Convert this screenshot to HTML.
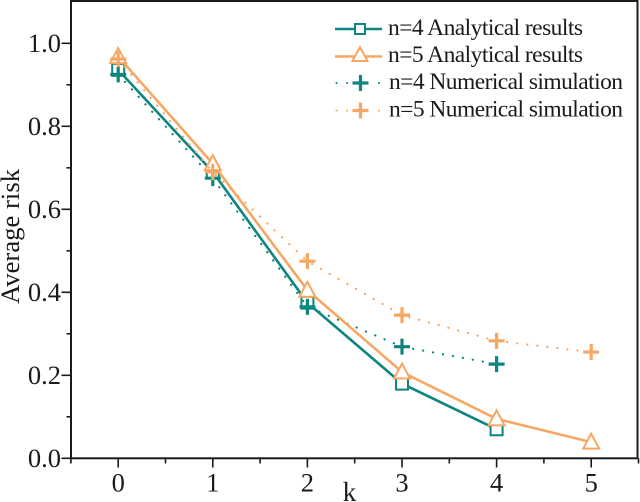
<!DOCTYPE html>
<html>
<head>
<meta charset="utf-8">
<style>
html,body{margin:0;padding:0;background:#fff;}
svg{display:block;font-family:"Liberation Serif",serif;}
</style>
</head>
<body>
<svg id="chart" width="640" height="502" viewBox="0 0 640 502" xmlns="http://www.w3.org/2000/svg"></svg>
<script>
const kValues4 = [0, 1, 2, 3, 4];
const kValues5 = [0, 1, 2, 3, 4, 5];
const analytical4 = [0.936, 0.69, 0.375, 0.18, 0.07];
const analytical5 = [0.968, 0.71, 0.405, 0.208, 0.095, 0.039];
const simulation4 = [0.925, 0.675, 0.365, 0.269, 0.227];
const simulation5 = [0.962, 0.69, 0.475, 0.345, 0.283, 0.256];
const xTicks = [0, 1, 2, 3, 4, 5];
const xMinorTicks = [-0.5, 0.5, 1.5, 2.5, 3.5, 4.5, 5.5];
const yTicks = [0, 0.2, 0.4, 0.6, 0.8, 1.0];
const yMinorTicks = [0.1, 0.3, 0.5, 0.7, 0.9];
const legendLabels = ["n=4 Analytical results", "n=5 Analytical results", "n=4 Numerical simulation", "n=5 Numerical simulation"];

const TEAL = "#0e8580";
const ORANGE = "#f6a763";
const INK = "#1a1a1a";
const svg = document.getElementById("chart");
const NS = "http://www.w3.org/2000/svg";
function xScale(v){ return 118.2 + (v - 0) * 94.6; }
function yScale(v){ return 458.3 - v * 415; }
function make(tag, attrs, parent){
  const el = document.createElementNS(NS, tag);
  for (const key in attrs) el.setAttribute(key, attrs[key]);
  (parent || svg).appendChild(el);
  return el;
}
function polyPoints(xs, ys){
  return xs.map((x, i) => xScale(x).toFixed(1) + "," + yScale(ys[i]).toFixed(1)).join(" ");
}
function drawSquare(parent, cx, cy){
  make("rect", {x: cx - 6, y: cy - 6, width: 12, height: 12, fill: "none", stroke: TEAL, "stroke-width": 2}, parent);
}
function drawTriangle(parent, cx, cy){
  make("polygon", {points: (cx) + "," + (cy - 8.5) + " " + (cx - 8) + "," + (cy + 6.5) + " " + (cx + 8) + "," + (cy + 6.5), fill: "none", stroke: ORANGE, "stroke-width": 2}, parent);
}
function drawPlus(parent, cx, cy, colour){
  make("path", {d: "M" + (cx - 8) + " " + cy + "H" + (cx + 8) + "M" + cx + " " + (cy - 8) + "V" + (cy + 8), fill: "none", stroke: colour, "stroke-width": 3.2}, parent);
}

// frame
const frame = make("rect", {x: 71, y: 1, width: 566.5, height: 457.3, fill: "none", stroke: INK, "stroke-width": 2});



// x axis
const xAxis = make("g", {});


xTicks.forEach(t => {
  make("line", {x1: xScale(t), x2: xScale(t), y1: 458.3, y2: 467.5, stroke: INK, "stroke-width": 1.6}, xAxis);
  const label = make("text", {x: xScale(t), y: 491.5, "text-anchor": "middle", "font-size": 26.5, fill: INK}, xAxis);
  label.textContent = t;
  
  
});
xMinorTicks.forEach(t => {
  make("line", {x1: xScale(t), x2: xScale(t), y1: 458.3, y2: 463.5, stroke: INK, "stroke-width": 1.6}, xAxis);
});

// y axis
const yAxis = make("g", {});


yTicks.forEach(t => {
  make("line", {x1: 61.5, x2: 71, y1: yScale(t), y2: yScale(t), stroke: INK, "stroke-width": 1.6}, yAxis);
  const label = make("text", {x: 61, y: yScale(t) + 8.7, "text-anchor": "end", "font-size": 26.5, fill: INK}, yAxis);
  label.textContent = t.toFixed(1);
  
  
});
yMinorTicks.forEach(t => {
  make("line", {x1: 66.5, x2: 71, y1: yScale(t), y2: yScale(t), stroke: INK, "stroke-width": 1.6}, yAxis);
});

// axis titles
const yTitle = make("text", {transform: "translate(19,236.5) rotate(-90)", "text-anchor": "middle", "font-size": 26.7, fill: INK});
yTitle.textContent = "Average risk";


const xTitle = make("text", {x: 349.5, y: 501, "text-anchor": "middle", "font-size": 27, fill: INK});
xTitle.textContent = "k";



// series
const dotted = {fill: "none", "stroke-width": 2.2, "stroke-linecap": "round", "stroke-dasharray": "0.1 10"};
const sim4Group = make("g", {});


make("polyline", Object.assign({points: polyPoints(kValues4, simulation4), stroke: TEAL}, dotted), sim4Group);

const sim5Group = make("g", {});


make("polyline", Object.assign({points: polyPoints(kValues5, simulation5), stroke: ORANGE}, dotted), sim5Group);

const an4Group = make("g", {});


make("polyline", {points: polyPoints(kValues4, analytical4), fill: "none", stroke: TEAL, "stroke-width": 2.6}, an4Group);
kValues4.forEach((k, i) => {
  make("rect", {x: xScale(k) - 6, y: yScale(analytical4[i]) - 6, width: 12, height: 12, fill: "#fff", stroke: "none"}, an4Group);
  drawSquare(an4Group, xScale(k), yScale(analytical4[i]));
});

kValues4.forEach((k, i) => {
  drawPlus(sim4Group, xScale(k), yScale(simulation4[i]), TEAL);
});
svg.appendChild(sim4Group);

const an5Group = make("g", {});


make("polyline", {points: polyPoints(kValues5, analytical5), fill: "none", stroke: ORANGE, "stroke-width": 2.6}, an5Group);
kValues5.forEach((k, i) => {
  const cx = xScale(k), cy = yScale(analytical5[i]);
  make("polygon", {points: cx + "," + (cy - 8.5) + " " + (cx - 8) + "," + (cy + 6.5) + " " + (cx + 8) + "," + (cy + 6.5), fill: "#fff", stroke: "none"}, an5Group);
  drawTriangle(an5Group, cx, cy);
});

kValues5.forEach((k, i) => {
  drawPlus(sim5Group, xScale(k), yScale(simulation5[i]), ORANGE);
});
svg.appendChild(sim5Group);

// legend
const legend = make("g", {});


const legendRows = [29, 56.5, 83, 110.5];
const legendBaselines = [35, 62, 89, 116.5];
legendLabels.forEach((text, i) => {
  const y = legendRows[i];
  const entry = make("g", {}, legend);
  
  
  const colour = (i % 2 === 0) ? TEAL : ORANGE;
  if (i < 2) {
    make("line", {x1: 335, x2: 382, y1: y, y2: y, stroke: colour, "stroke-width": 2.4}, entry);
    if (i === 0) {
      make("rect", {x: 355, y: y - 5, width: 10, height: 10, fill: "#fff", stroke: TEAL, "stroke-width": 2}, entry);
    } else {
      make("polygon", {points: "360,"+(y-9.5)+" 352.5,"+(y+4.5)+" 367.5,"+(y+4.5), fill: "#fff", stroke: ORANGE, "stroke-width": 2}, entry);
    }
  } else {
    make("line", {x1: 336.5, x2: 380, y1: y, y2: y, stroke: colour, "stroke-width": 2, "stroke-linecap": "round", "stroke-dasharray": "0.1 10.5"}, entry);
    make("rect", {x: 350, y: y - 8, width: 20, height: 16, fill: "#fff", stroke: "none"}, entry);
    drawPlus(entry, 360.5, y, colour);
  }
  const label = make("text", {x: i < 2 ? 388 : 389, y: legendBaselines[i], "font-size": 23.5, fill: INK}, entry);
  label.textContent = text;
  label.setAttribute('textLength', i < 2 ? 195 : 234);
  label.setAttribute('lengthAdjust', 'spacing');
});
</script>
</body>
</html>
